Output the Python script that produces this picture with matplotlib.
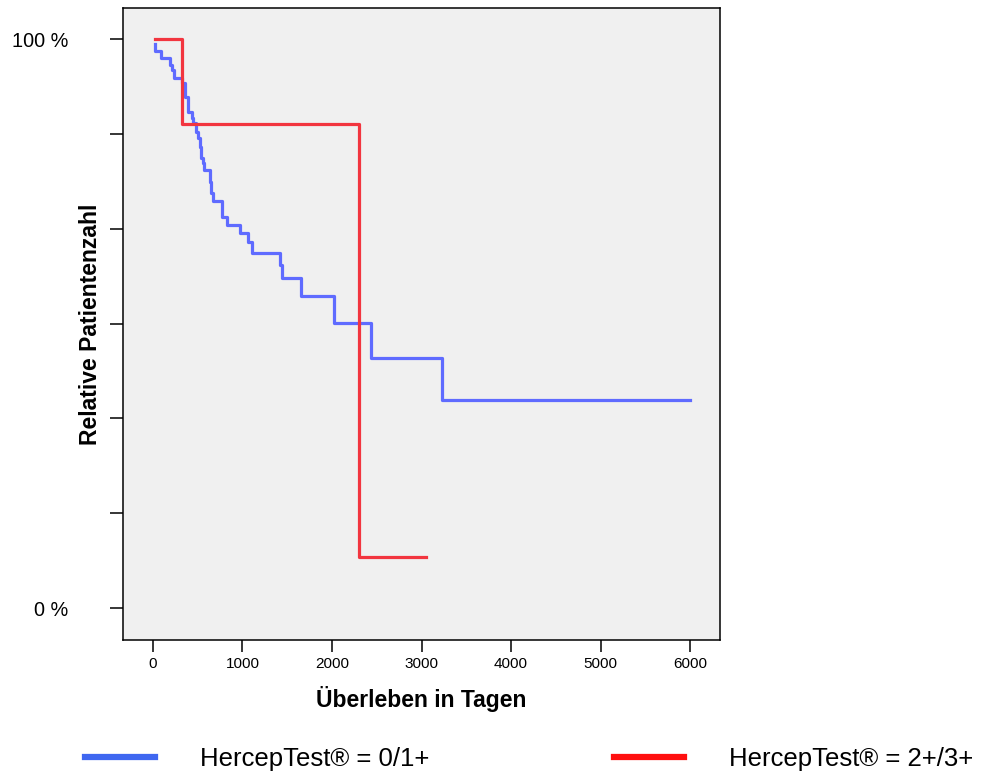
import numpy as np
import matplotlib.pyplot as plt
from matplotlib.lines import Line2D

plt.rcParams['font.family'] = ['Liberation Sans', 'DejaVu Sans']

# Kaplan-Meier steps (days, relative patient count)
blue_t = [20, 20, 89, 190, 212, 235, 320, 358, 391, 436, 447, 480, 503, 525, 536,
          559, 570, 637, 648, 670, 771, 827, 972, 1061, 1106, 1419, 1441, 1654,
          2022, 2436, 3229, 6000]
blue_s = [0.991, 0.979, 0.967, 0.954, 0.946, 0.931, 0.923, 0.898, 0.872, 0.861,
          0.852, 0.837, 0.826, 0.810, 0.791, 0.782, 0.770, 0.748, 0.729, 0.715,
          0.687, 0.673, 0.659, 0.643, 0.624, 0.603, 0.580, 0.548, 0.501, 0.439,
          0.366, 0.366]

red_t = [20, 324, 2302, 3050]
red_s = [1.0, 0.85, 0.09, 0.09]

labels = ["HercepTest® = 0/1+", "HercepTest® = 2+/3+"]
x_ticks = [0, 1000, 2000, 3000, 4000, 5000, 6000]
y_ticks = [0, 1/6, 2/6, 3/6, 4/6, 5/6, 1]
y_ticklabels = ["0 %", "", "", "", "", "", "100 %"]

fig = plt.figure(figsize=(9.85, 7.73), dpi=100)
ax = fig.add_axes([123/985, 133/773, 597/985, 632/773])
ax.set_facecolor('#f0f0f0')

ax.plot(blue_t, blue_s, drawstyle='steps-post', color='#5f6bff', lw=2.3)
ax.plot(red_t, red_s, drawstyle='steps-post', color='#f2353f', lw=2.3)

ax.set_xlim(-335, 6335)
ax.set_ylim(-0.056, 1.0545)
ax.set_xticks(x_ticks)
ax.set_xticklabels([str(v) for v in x_ticks], fontsize=11)
ax.set_yticks(y_ticks)
ax.set_yticklabels(y_ticklabels, fontsize=14.3)
ax.tick_params(axis='x', length=8.5, width=1.1, pad=3.5)
ax.tick_params(axis='y', length=9.5, width=1.1, pad=30)
for sp in ax.spines.values():
    sp.set_linewidth(1.1)

ax.set_xlabel("Überleben in Tagen", fontsize=16.5, fontweight='bold', labelpad=11)
ax.set_ylabel("Relative Patientenzahl", fontsize=16.5, fontweight='bold')
ax.yaxis.set_label_coords(-0.035, 0.5)

handles = [Line2D([], [], color='#3f67f0', lw=4.5),
           Line2D([], [], color='#ff1010', lw=4.5)]
fig.legend(handles, labels, loc='center left', bbox_to_anchor=(85/985, 14/773),
           ncol=2, frameon=False, fontsize=18.5, handlelength=2.72,
           handletextpad=1.75, columnspacing=7.2, borderpad=0, borderaxespad=0)

fig.savefig('out.png', dpi=100)
